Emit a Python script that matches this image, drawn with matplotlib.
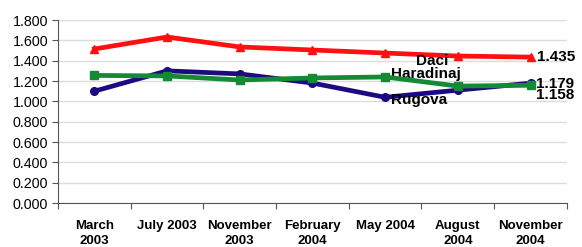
import matplotlib
matplotlib.use("Agg")
import matplotlib.pyplot as plt
import numpy as np

plt.rcParams["font.family"] = ["Liberation Sans", "DejaVu Sans"]

categories = ["March\n2003", "July 2003", "November\n2003", "February\n2004",
              "May 2004", "August\n2004", "November\n2004"]
daci = [1.515, 1.633, 1.535, 1.505, 1.475, 1.446, 1.435]
rugova = [1.100, 1.300, 1.270, 1.180, 1.040, 1.110, 1.179]
haradinaj = [1.255, 1.250, 1.210, 1.230, 1.240, 1.150, 1.158]
yticks = np.arange(0, 1.81, 0.2)

fig = plt.figure(figsize=(5.82, 2.47), dpi=100)
ax = fig.add_axes([0.0997, 0.178, 0.8743, 0.741])

x = np.arange(len(categories))
ax.plot(x, daci, color="#ff1010", lw=3.4, marker="^", ms=6, zorder=3)
ax.plot(x, rugova, color="#1c0a82", lw=3.4, marker="o", ms=5.5, zorder=3)
ax.plot(x, haradinaj, color="#138a34", lw=3.4, marker="s", ms=5.5, zorder=4)

ax.set_xlim(-0.5, len(categories) - 0.5)
ax.set_ylim(0, 1.8)
ax.set_yticks(yticks)
ax.set_yticklabels([f"{v:.3f}" for v in yticks], fontsize=10.3)
ax.yaxis.grid(True, color="#dcdcdc", lw=1)
ax.set_axisbelow(True)

ax.set_xticks(np.arange(-0.5, len(categories), 1.0))
ax.set_xticklabels([])
ax.set_xticks(x, minor=True)
ax.set_xticklabels(categories, minor=True, fontsize=9.5, fontweight="bold",
                   multialignment="center", linespacing=1.35)
ax.tick_params(axis="x", which="minor", length=0, pad=12)
ax.tick_params(axis="x", which="major", length=4, color="#555555")
ax.tick_params(axis="y", length=4, color="#555555", pad=3)

for side in ["top", "right"]:
    ax.spines[side].set_visible(False)
for side in ["left", "bottom"]:
    ax.spines[side].set_color("#555555")

last = len(categories) - 1
ax.text(4.42, daci[4] - 0.08, "Daci", fontsize=11, fontweight="bold", va="center")
ax.text(4.08, haradinaj[4] + 0.03, "Haradinaj", fontsize=11, fontweight="bold", va="center")
ax.text(4.08, rugova[4] - 0.03, "Rugova", fontsize=11, fontweight="bold", va="center")
ax.text(last + 0.09, daci[-1], f"{daci[-1]:.3f}", fontsize=11, fontweight="bold", va="center")
ax.text(last + 0.08, rugova[-1] - 0.01, f"{rugova[-1]:.3f}", fontsize=11, fontweight="bold", va="center")
ax.text(last + 0.08, haradinaj[-1] - 0.1, f"{haradinaj[-1]:.3f}", fontsize=11, fontweight="bold", va="center")

fig.savefig("out.png", dpi=100)
